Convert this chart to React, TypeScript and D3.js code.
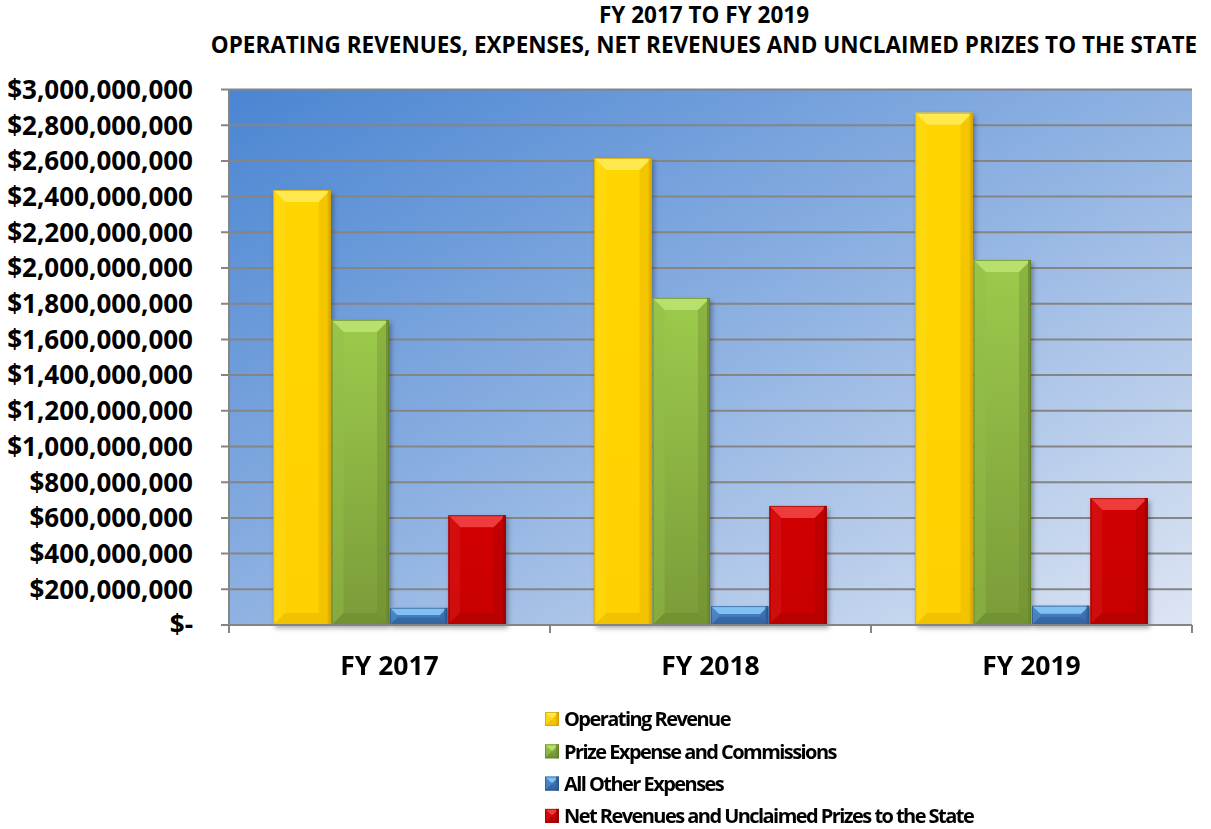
import React from "react";
import * as d3 from "d3";

const categories = ["FY 2017", "FY 2018", "FY 2019"];
const seriesNames = [
  "Operating Revenue",
  "Prize Expense and Commissions",
  "All Other Expenses",
  "Net Revenues and Unclaimed Prizes to the State",
];
const operatingRevenue = [2437000000, 2616000000, 2870000000];
const prizeExpense = [1709000000, 1832000000, 2045000000];
const otherExpenses = [96000000, 106000000, 108000000];
const netRevenues = [615000000, 667000000, 711000000];
const seriesValues = [operatingRevenue, prizeExpense, otherExpenses, netRevenues];
const yTickValues = [
  0, 200000000, 400000000, 600000000, 800000000, 1000000000, 1200000000,
  1400000000, 1600000000, 1800000000, 2000000000, 2200000000, 2400000000,
  2600000000, 2800000000, 3000000000,
];
const titleLines = [
  "FY 2017 TO FY 2019",
  "OPERATING REVENUES, EXPENSES, NET REVENUES AND UNCLAIMED PRIZES TO THE STATE",
];

type Pal = { g0: string; g1: string; top: string; left: string; right: string; bottom: string; edge: string };
const palettes: Pal[] = [
  { g0: "#FFD500", g1: "#FFD000", top: "#FFE94E", left: "#FFDB22", right: "#E0AC00", bottom: "#E8B900", edge: "#C79600" },
  { g0: "#9CCB4C", g1: "#7B9B39", top: "#B8E06C", left: "#93BE48", right: "#6B8A2E", bottom: "#6D8C31", edge: "#5E7A28" },
  { g0: "#4A86C8", g1: "#3B6FAE", top: "#80C0F2", left: "#4E8DD0", right: "#2D5C96", bottom: "#2F5E98", edge: "#284F80" },
  { g0: "#D20202", g1: "#C80000", top: "#EE3A3A", left: "#D81010", right: "#A30000", bottom: "#AC0000", edge: "#8A0000" },
];

const W = 1211;
const H = 829;
const plotLeft = 229;
const plotRight = 1192;
const plotTop = 89.5;
const plotBottom = 625;
const FONT = "'Open Sans', 'Liberation Sans', sans-serif";

function BevelBar({ x, y, w, h, pal, id }: { x: number; y: number; w: number; h: number; pal: Pal; id: string }) {
  if (h <= 0) return null;
  const b = Math.min(12, h * 0.42, w / 2);
  const x2 = x + w;
  const y2 = y + h;
  const pts = (p: number[][]) => p.map((q) => q.join(",")).join(" ");
  return (
    <g>
      <rect x={x} y={y} width={w} height={h} fill={`url(#${id})`} />
      <polygon points={pts([[x, y], [x2, y], [x2 - b, y + b], [x + b, y + b]])} fill={pal.top} />
      <polygon points={pts([[x, y], [x + b, y + b], [x + b, y2 - b], [x, y2]])} fill={pal.left} opacity={0.45} />
      <polygon points={pts([[x2, y], [x2, y2], [x2 - b, y2 - b], [x2 - b, y + b]])} fill={pal.right} opacity={0.35} />
      <polygon points={pts([[x, y2], [x + b, y2 - b], [x2 - b, y2 - b], [x2, y2]])} fill={pal.bottom} opacity={0.6} />
      <rect x={x2 - 3} y={y} width={3} height={h} fill={pal.right} opacity={0.8} />
      <rect x={x + 0.5} y={y + 0.5} width={w - 1} height={h - 1} fill="none" stroke={pal.edge} strokeWidth={1} opacity={0.6} />
    </g>
  );
}

export default function App() {
  const x0 = d3.scaleBand<string>().domain(categories).range([plotLeft, plotRight]).paddingInner(0).paddingOuter(0);
  const x1 = d3.scaleBand<string>().domain(seriesNames).range([0, x0.bandwidth()]).paddingInner(0).paddingOuter(0.75);
  const y = d3.scaleLinear().domain([0, 3000000000]).range([plotBottom, plotTop]);
  const fmt = d3.format(",");
  const tickLabel = (v: number) => (v === 0 ? "$-" : "$" + fmt(v));
  const catTicks = [plotLeft, ...categories.map((c) => (x0(c) as number) + x0.bandwidth())];

  return (
    <svg width={W} height={H} style={{ position: "absolute", left: 0, top: 0, background: "#fff" }}>
      <defs>
        <linearGradient id="bg" x1="0" y1="0" x2="1" y2="1">
          <stop offset="0" stopColor="#4A85D2" />
          <stop offset="0.5" stopColor="#8FB2E2" />
          <stop offset="1" stopColor="#DDE5F3" />
        </linearGradient>
        {palettes.map((p, i) => (
          <linearGradient key={i} id={`bar${i}`} x1="0" y1="0" x2="0" y2="1">
            <stop offset="0" stopColor={p.g0} />
            <stop offset="1" stopColor={p.g1} />
          </linearGradient>
        ))}
        <filter id="shadow" x="-20%" y="-20%" width="140%" height="140%">
          <feDropShadow dx="2" dy="3" stdDeviation="2.5" floodColor="#000" floodOpacity="0.35" />
        </filter>
      </defs>

      {/* title */}
      {titleLines.map((t, i) => (
        <text key={i} x={704} y={23 + i * 30} textAnchor="middle" fontFamily={FONT} fontWeight={700} fontSize={22.5} fill="#000">
          {t}
        </text>
      ))}

      {/* plot background */}
      <rect x={plotLeft} y={plotTop} width={plotRight - plotLeft} height={plotBottom - plotTop} fill="url(#bg)" />

      {/* gridlines */}
      {yTickValues.map((v) => (
        <line key={v} x1={plotLeft - 8} x2={plotRight} y1={y(v)} y2={y(v)} stroke="#858585" strokeWidth={2} />
      ))}
      <line x1={plotLeft} x2={plotLeft} y1={plotTop} y2={plotBottom} stroke="#858585" strokeWidth={2} />

      {/* y labels */}
      {yTickValues.map((v) => (
        <text key={v} x={193} y={y(v)} dy="0.36em" textAnchor="end" fontFamily={FONT} fontWeight={700} fontSize={26} fill="#000">
          {tickLabel(v)}
        </text>
      ))}

      {/* bars */}
      <g filter="url(#shadow)">
        {categories.map((c, ci) =>
          seriesNames.map((s, si) => {
            const v = seriesValues[si][ci];
            const bx = (x0(c) as number) + (x1(s) as number);
            const by = y(v);
            return (
              <BevelBar key={c + s} x={bx + 0.5} y={by} w={x1.bandwidth() - 1} h={plotBottom - by} pal={palettes[si]} id={`bar${si}`} />
            );
          })
        )}
      </g>

      {/* x axis */}
      <line x1={plotLeft} x2={plotRight} y1={plotBottom} y2={plotBottom} stroke="#858585" strokeWidth={2} />
      {catTicks.map((t, i) => (
        <line key={i} x1={t} x2={t} y1={plotBottom} y2={plotBottom + 8} stroke="#858585" strokeWidth={2} />
      ))}
      {categories.map((c) => (
        <text key={c} x={(x0(c) as number) + x0.bandwidth() / 2} y={665} dy="0.36em" textAnchor="middle" fontFamily={FONT} fontWeight={700} fontSize={26.5} fill="#000">
          {c}
        </text>
      ))}

      {/* legend */}
      {seriesNames.map((s, i) => {
        const ly = 719 + i * 32.3;
        return (
          <g key={s}>
            <BevelBar x={545} y={ly - 7} w={14} h={14} pal={palettes[i]} id={`bar${i}`} />
            <text x={564} y={ly} dy="0.36em" fontFamily={FONT} fontWeight={700} fontSize={20} letterSpacing={-1.55} fill="#000">
              {s}
            </text>
          </g>
        );
      })}
    </svg>
  );
}
